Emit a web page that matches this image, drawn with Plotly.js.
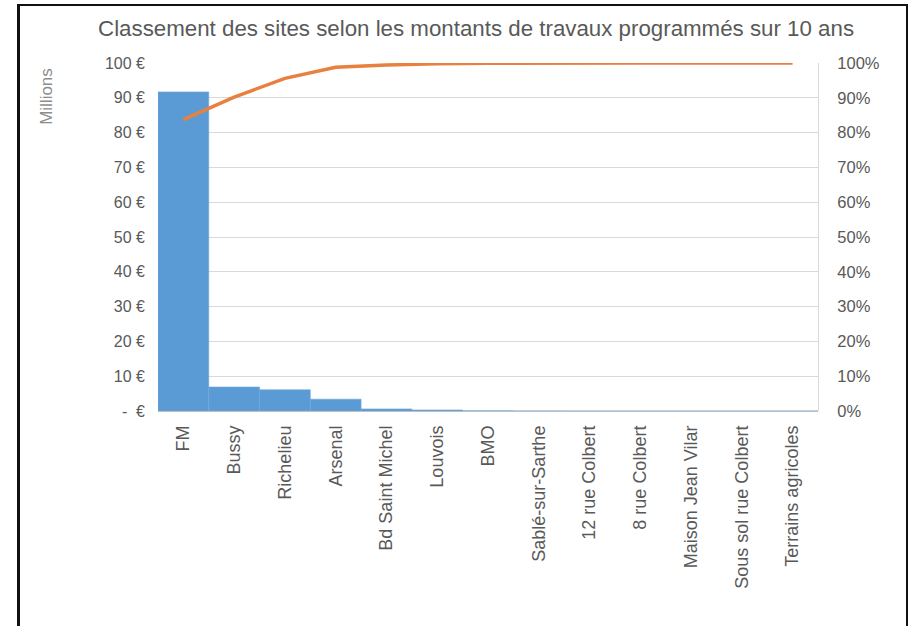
<!DOCTYPE html>
<html>
<head>
<meta charset="utf-8">
<script src="https://cdn.plot.ly/plotly-3.0.1.min.js"></script>
<style>
html,body{margin:0;padding:0;background:#fff;}
#wrap{position:relative;width:912px;height:626px;}
#chart{width:912px;height:626px;}
#frame{position:absolute;left:17px;top:4px;width:891px;height:640px;border:2px solid #111;border-left-width:3px;pointer-events:none;box-sizing:border-box;}
</style>
</head>
<body>
<div id="wrap">
<div id="chart"></div>
<div id="frame"></div>
</div>
<script>
const sites = ["FM","Bussy","Richelieu","Arsenal","Bd Saint Michel","Louvois","BMO","Sablé-sur-Sarthe","12 rue Colbert","8 rue Colbert","Maison Jean Vilar","Sous sol rue Colbert","Terrains agricoles"];
const montants = [91.7, 6.9, 6.1, 3.4, 0.6, 0.3, 0.05, 0.02, 0.01, 0.01, 0.01, 0.01, 0.01];
const cumulPct = [83.7, 90.2, 95.6, 98.8, 99.4, 99.8, 99.9, 100, 100, 100, 100, 100, 100];
const leftTickVals = [0,10,20,30,40,50,60,70,80,90,100];
const leftTickText = ["-  €","10 €","20 €","30 €","40 €","50 €","60 €","70 €","80 €","90 €","100 €"];
const rightTickVals = [0,10,20,30,40,50,60,70,80,90,100];
const rightTickText = ["0%","10%","20%","30%","40%","50%","60%","70%","80%","90%","100%"];

const font = {family: "Liberation Sans, Arial, sans-serif", color: "#595959", size: 16};

const traces = [
  {type: "bar", x: sites, y: montants, marker: {color: "#5B9BD5", line: {color: "#6FA8DC", width: 0.6}}, hoverinfo: "none", yaxis: "y"},
  {type: "scatter", mode: "lines", x: sites, y: cumulPct, line: {color: "#E8803F", width: 3.5}, yaxis: "y2", hoverinfo: "none"}
];

const layout = {
  width: 912, height: 626,
  margin: {l: 158, r: 94, t: 63, b: 215},
  paper_bgcolor: "#fff", plot_bgcolor: "#fff",
  showlegend: false,
  bargap: 0,
  font: font,
  title: {text: "Classement des sites selon les montants de travaux programmés sur 10 ans", font: {family: font.family, size: 22.3, color: "#595959"}, x: 0.522, xanchor: "center", xref: "container", y: 0.955, yanchor: "middle", yref: "container"},
  xaxis: {type: "category", tickangle: -90, showgrid: false, showline: false, ticks: "", ticklabelstandoff: 10, tickfont: {size: 18, color: "#595959"}, automargin: false, zeroline: false},
  yaxis: {range: [0, 100], tickvals: leftTickVals, ticktext: leftTickText, showgrid: true, gridcolor: "#D9D9D9", gridwidth: 1, zeroline: true, zerolinecolor: "#BFBFBF", showline: false, ticks: "", ticklabelstandoff: 12, tickfont: {size: 16, color: "#595959"}, automargin: false},
  yaxis2: {range: [0, 100], overlaying: "y", side: "right", tickvals: rightTickVals, ticktext: rightTickText, showgrid: false, zeroline: false, showline: true, linecolor: "#D9D9D9", ticks: "", ticklabelstandoff: 15, tickfont: {size: 16.5, color: "#595959"}, automargin: false},
  annotations: [
    {text: "Millions", xref: "paper", yref: "paper", x: -0.17, y: 0.905, textangle: -90, showarrow: false, font: {size: 17, color: "#8C8C8C"}, xanchor: "center", yanchor: "middle"}
  ]
};

Plotly.newPlot("chart", traces, layout, {displayModeBar: false, staticPlot: true});
</script>
</body>
</html>
